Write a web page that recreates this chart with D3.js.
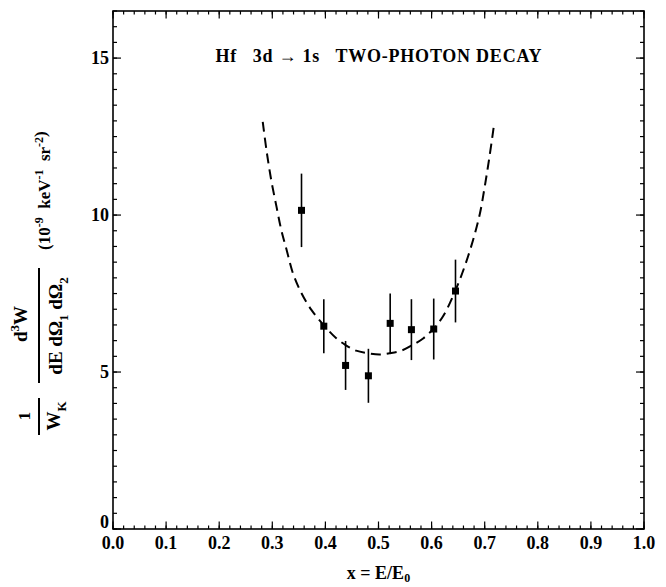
<!DOCTYPE html>
<html>
<head>
<meta charset="utf-8">
<script src="https://cdn.jsdelivr.net/npm/d3@7"></script>
<style>
body { margin: 0; background: #fff; }
text { font-family: "Liberation Serif", "DejaVu Serif", serif; font-weight: bold; fill: #000; }
</style>
</head>
<body>
<script>
// measured points with error bars
var xVals = [0.355, 0.397, 0.438, 0.481, 0.522, 0.562, 0.604, 0.645];
var yVals = [10.15, 6.46, 5.21, 4.88, 6.55, 6.35, 6.37, 7.58];
var yErr = [1.17, 0.86, 0.78, 0.86, 0.95, 0.97, 0.97, 1.0];

// dashed theory curve
var curveX = [0.282, 0.289, 0.298, 0.308, 0.317, 0.327, 0.339, 0.355, 0.374, 0.397, 0.421, 0.438, 0.458, 0.480, 0.502, 0.521, 0.543, 0.562, 0.584, 0.603, 0.621, 0.644, 0.662, 0.678, 0.691, 0.700, 0.709, 0.717];
var curveY = [12.97, 12.07, 11.11, 10.26, 9.52, 8.89, 8.14, 7.51, 6.97, 6.49, 6.07, 5.86, 5.68, 5.60, 5.56, 5.60, 5.68, 5.84, 6.07, 6.37, 6.76, 7.56, 8.35, 9.20, 10.05, 10.9, 11.86, 12.81];

var xTicks = [0, 0.1, 0.2, 0.3, 0.4, 0.5, 0.6, 0.7, 0.8, 0.9, 1.0];
var yTicks = [0, 5, 10, 15];

var W = 666, H = 587;
var margin = {top: 11, right: 22, bottom: 58, left: 113},
width = W - margin.left - margin.right,
height = H - margin.top - margin.bottom;

var x = d3.scaleLinear().domain([0, 1]).range([0, width]);
var y = d3.scaleLinear().domain([0, 16.5]).range([height, 0]);

var svg = d3.select("body").append("svg")
    .attr("width", W)
    .attr("height", H);

var g = svg.append("g")
    .attr("transform", "translate(" + margin.left + "," + margin.top + ")");

// frame
g.append("rect")
    .attr("width", width).attr("height", height)
    .attr("fill", "none").attr("stroke", "#000").attr("stroke-width", 1.6);

var xMinor = d3.range(0, 1.0001, 0.02);
var yMinor = d3.range(0, 16.5001, 0.5);

// ticks pointing inward on every side
function tickSet(vals, len, cls) {
    g.selectAll("line.bx" + cls).data(vals).enter().append("line")
        .attr("x1", d => x(d)).attr("x2", d => x(d))
        .attr("y1", height).attr("y2", height - len);
    g.selectAll("line.tx" + cls).data(vals).enter().append("line")
        .attr("x1", d => x(d)).attr("x2", d => x(d))
        .attr("y1", 0).attr("y2", len);
}
function tickSetY(vals, len, cls) {
    g.selectAll("line.ly" + cls).data(vals).enter().append("line")
        .attr("y1", d => y(d)).attr("y2", d => y(d))
        .attr("x1", 0).attr("x2", len);
    g.selectAll("line.ry" + cls).data(vals).enter().append("line")
        .attr("y1", d => y(d)).attr("y2", d => y(d))
        .attr("x1", width).attr("x2", width - len);
}
tickSet(xMinor, 3.5, "m");
tickSet(xTicks, 7.5, "M");
tickSetY(yMinor, 4, "m");
tickSetY(yTicks, 8, "M");
g.selectAll("line").attr("stroke", "#000").attr("stroke-width", 1.2);

// tick labels
g.selectAll("text.xl").data(xTicks).enter().append("text")
    .attr("x", d => x(d)).attr("y", height + 20)
    .attr("text-anchor", "middle")
    .style("font-size", "18px")
    .text(d => d.toFixed(1));

g.selectAll("text.yl").data(yTicks).enter().append("text")
    .attr("x", -4).attr("y", d => y(d) + (d === 0 ? -1 : 6))
    .attr("text-anchor", "end")
    .style("font-size", "18px")
    .text(d => d);

// curve
var line = d3.line()
    .x(d => x(d[0])).y(d => y(d[1]))
    .curve(d3.curveCatmullRom);

g.append("path")
    .datum(d3.zip(curveX, curveY))
    .attr("d", line)
    .attr("fill", "none")
    .attr("stroke", "#000")
    .attr("stroke-width", 2)
    .attr("stroke-dasharray", "10,6");

// error bars and markers
var pts = d3.zip(xVals, yVals, yErr);
g.selectAll("line.err").data(pts).enter().append("line")
    .attr("class", "err")
    .attr("x1", d => x(d[0])).attr("x2", d => x(d[0]))
    .attr("y1", d => y(d[1] - d[2])).attr("y2", d => y(d[1] + d[2]))
    .attr("stroke", "#000").attr("stroke-width", 1.6);

g.selectAll("rect.pt").data(pts).enter().append("rect")
    .attr("class", "pt")
    .attr("x", d => x(d[0]) - 3.5).attr("y", d => y(d[1]) - 3.5)
    .attr("width", 7).attr("height", 7)
    .attr("fill", "#000");

// title
g.append("text")
    .attr("x", x(0.5)).attr("y", 51)
    .attr("text-anchor", "middle")
    .style("font-size", "18px")
    .style("white-space", "pre")
    .attr("textLength", 326)
    .attr("lengthAdjust", "spacing")
    .text("Hf   3d \u2192 1s   TWO-PHOTON DECAY");

// x axis title
var xt = svg.append("text")
    .attr("x", margin.left + x(0.5)).attr("y", 579)
    .attr("text-anchor", "middle")
    .style("font-size", "18px")
    .style("white-space", "pre");
xt.append("tspan").text("x = E/E");
xt.append("tspan").attr("dy", 3).style("font-size", "12px").text("0");

// y axis title, built in a rotated frame
var yl = svg.append("g").attr("transform", "rotate(-90)");

yl.append("text").attr("x", -416).attr("y", 30)
    .attr("text-anchor", "middle").style("font-size", "17px").text("1");
yl.append("line").attr("x1", -435).attr("x2", -398).attr("y1", 39).attr("y2", 39)
    .attr("stroke", "#000").attr("stroke-width", 2);
var wk = yl.append("text").attr("x", -416).attr("y", 60)
    .attr("text-anchor", "middle").style("font-size", "19px");
wk.append("tspan").text("W");
wk.append("tspan").attr("dy", 6).style("font-size", "13px").text("K");

var num = yl.append("text").attr("x", -324).attr("y", 27)
    .attr("text-anchor", "middle").style("font-size", "19px");
num.append("tspan").text("d");
num.append("tspan").attr("dy", -8).style("font-size", "13px").text("3");
num.append("tspan").attr("dy", 8).text("W");
yl.append("line").attr("x1", -383).attr("x2", -268).attr("y1", 39).attr("y2", 39)
    .attr("stroke", "#000").attr("stroke-width", 2);
var den = yl.append("text").attr("x", -326).attr("y", 62)
    .attr("text-anchor", "middle").style("font-size", "19px")
    .style("white-space", "pre");
den.append("tspan").text("dE d\u03A9");
den.append("tspan").attr("dy", 6).style("font-size", "13px").text("1");
den.append("tspan").attr("dy", -6).text(" d\u03A9");
den.append("tspan").attr("dy", 6).style("font-size", "13px").text("2");

var un = yl.append("text").attr("x", -250).attr("y", 50)
    .attr("text-anchor", "start").style("font-size", "17px")
    .style("white-space", "pre");
un.append("tspan").text("(10");
un.append("tspan").attr("dy", -7).style("font-size", "12px").text("-9");
un.append("tspan").attr("dy", 7).text("  keV");
un.append("tspan").attr("dy", -7).style("font-size", "12px").text("-1");
un.append("tspan").attr("dy", 7).text("  sr");
un.append("tspan").attr("dy", -7).style("font-size", "12px").text("-2");
un.append("tspan").attr("dy", 3).text(")");
</script>
</body>
</html>
